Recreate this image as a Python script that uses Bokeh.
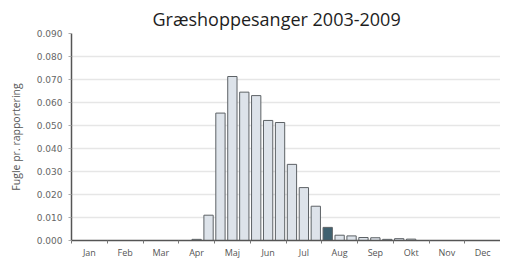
from bokeh.plotting import figure
from bokeh.models import FixedTicker, PrintfTickFormatter, ColumnDataSource, Range1d
from bokeh.embed import file_html
from bokeh.resources import INLINE

months = ["Jan", "Feb", "Mar", "Apr", "Maj", "Jun", "Jul", "Aug", "Sep", "Okt", "Nov", "Dec"]
# three ten-day periods per month
values = [
    0, 0, 0,            # Jan
    0, 0, 0,            # Feb
    0, 0, 0,            # Mar
    0, 0.0005, 0.011,   # Apr
    0.0554, 0.0713, 0.0645,  # Maj
    0.063, 0.0522, 0.0513,   # Jun
    0.0331, 0.023, 0.0149,   # Jul
    0.0057, 0.0023, 0.0020,  # Aug
    0.0013, 0.0012, 0.0005,  # Sep
    0.0008, 0.0006, 0,       # Okt
    0, 0, 0,                 # Nov
    0, 0, 0,                 # Dec
]
highlight = [i == 21 for i in range(36)]
yticks = [0.0, 0.01, 0.02, 0.03, 0.04, 0.05, 0.06, 0.07, 0.08, 0.09]

x = [i + 0.5 for i in range(len(values))]
fills = ["#3f6170" if h else "#dde3ea" for h in highlight]
src = ColumnDataSource(dict(x=x, top=values, fill=fills))

p = figure(width=500, height=261, output_backend="svg", toolbar_location=None,
           x_range=Range1d(0, 36), y_range=Range1d(0, 0.09),
           min_border_left=71, min_border_right=0, min_border_top=33, min_border_bottom=0,
           title="Græshoppesanger 2003-2009")
p.outline_line_color = None
p.background_fill_color = "white"
p.border_fill_color = "white"

p.title.text_font = "Open Sans"
p.title.text_font_size = "18px"
p.title.text_font_style = "normal"
p.title.text_color = "#1e1e1e"
p.title.align = "left"
p.title.offset = 81
p.title.standoff = 5

p.vbar(x="x", top="top", width=0.78, source=src, fill_color="fill",
       line_color="#5d6266", line_width=1)

centers = [3 * i + 1.5 for i in range(12)]
xt = FixedTicker(ticks=centers, minor_ticks=[3 * i for i in range(13)])
p.xaxis.ticker = xt
p.xaxis.major_label_overrides = {c: m for c, m in zip(centers, months)}
p.xaxis.major_tick_out = 0
p.xaxis.major_tick_in = 0
p.xaxis.minor_tick_out = 3
p.xaxis.minor_tick_in = 0
p.xaxis.major_label_standoff = 2
p.xaxis.major_label_text_font_size = "9px"
p.xaxis.major_label_text_font = "Open Sans"
p.xaxis.major_label_text_color = "#555555"
p.xaxis.axis_line_color = "#555555"
p.xaxis.axis_line_width = 1.5
p.xaxis.minor_tick_line_color = "#777777"

p.yaxis.ticker = FixedTicker(ticks=yticks, minor_ticks=[])
p.yaxis.formatter = PrintfTickFormatter(format="%.3f")
p.yaxis.major_label_text_font_size = "9px"
p.yaxis.major_label_text_font = "DejaVu Sans"
p.yaxis.major_label_text_color = "#666666"
p.yaxis.major_tick_out = 3
p.yaxis.major_tick_in = 0
p.yaxis.major_tick_line_color = "#aaaaaa"
p.yaxis.major_label_standoff = 6
p.yaxis.axis_line_color = "#555555"
p.yaxis.axis_line_width = 1.5
p.yaxis.axis_label = "Fugle pr. rapportering"
p.yaxis.axis_label_text_font = "Open Sans"
p.yaxis.axis_label_text_font_size = "10.5px"
p.yaxis.axis_label_text_font_style = "normal"
p.yaxis.axis_label_text_color = "#555555"
p.yaxis.axis_label_standoff = 11

p.xgrid.grid_line_color = None
p.ygrid.grid_line_color = "#e6e6e6"
p.ygrid.grid_line_width = 1.5

open("out.html", "w").write(file_html(p, INLINE))
